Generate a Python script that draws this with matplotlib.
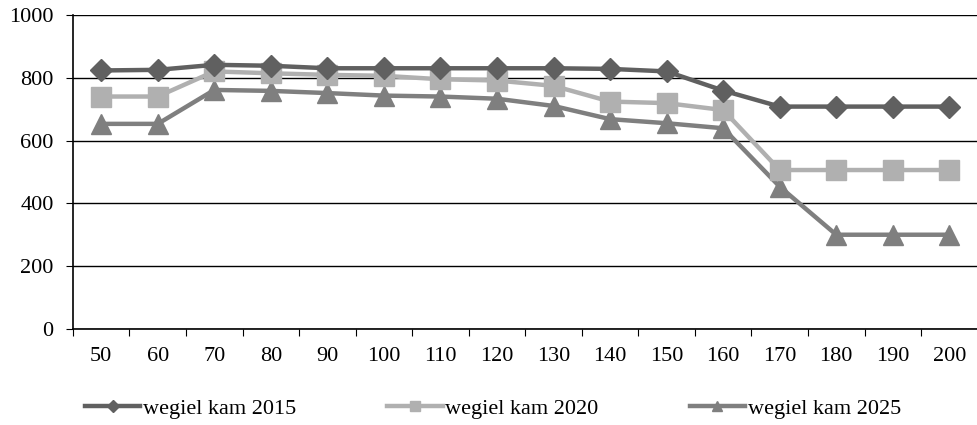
import matplotlib.pyplot as plt
import numpy as np

plt.rcParams['font.family'] = ['Liberation Serif', 'DejaVu Serif']

# categories on the x axis
kategorie = [50, 60, 70, 80, 90, 100, 110, 120, 130, 140, 150, 160, 170, 180, 190, 200]

# series values
wegiel_2015 = [823, 825, 841, 838, 830, 830, 830, 830, 830, 828, 820, 759, 708, 708, 708, 708]
wegiel_2020 = [740, 740, 820, 814, 809, 806, 795, 791, 774, 724, 719, 697, 506, 506, 506, 506]
wegiel_2025 = [653, 653, 761, 758, 751, 743, 740, 733, 710, 668, 655, 639, 453, 300, 300, 300]

nazwy = ['wegiel kam 2015', 'wegiel kam 2020', 'wegiel kam 2025']
y_ticks = [0, 200, 400, 600, 800, 1000]

fig = plt.figure(figsize=(9.78, 4.25), dpi=100)
ax = fig.add_axes([0.0746, 0.226, 0.925, 0.739])

x = np.arange(len(kategorie))
ax.plot(x, wegiel_2015, color='#606060', lw=3.2, marker='D', ms=11, label=nazwy[0], zorder=5)
ax.plot(x, wegiel_2020, color='#b0b0b0', lw=3.2, marker='s', ms=14, label=nazwy[1], zorder=4)
ax.plot(x, wegiel_2025, color='#7f7f7f', lw=3.2, marker='^', ms=14, label=nazwy[2], zorder=3)

ax.set_xlim(-0.5, len(kategorie) - 0.5)
ax.set_ylim(0, 1000)
ax.set_yticks(y_ticks)
ax.set_yticklabels([str(v) for v in y_ticks], fontsize=16)
ax.yaxis.grid(True, color='black', lw=1)
ax.set_axisbelow(True)

# tick marks between categories, labels centred on them
ax.set_xticks(np.arange(-0.5, len(kategorie), 1.0))
ax.set_xticklabels([])
ax.set_xticks(x, minor=True)
ax.set_xticklabels([str(k) for k in kategorie], minor=True, fontsize=16)
ax.tick_params(axis='x', which='major', length=5, direction='out', color='black')
ax.tick_params(axis='x', which='minor', length=0, pad=13)
ax.tick_params(axis='y', length=5, direction='out', pad=9)

for s in ['top', 'right']:
    ax.spines[s].set_visible(False)
for s in ['left', 'bottom']:
    ax.spines[s].set_color('black')
    ax.spines[s].set_linewidth(1.2)

fig.legend(loc='center left', bbox_to_anchor=(0.087, 0.038), ncol=3, frameon=False,
           fontsize=16, handlelength=2.48, handletextpad=0.13, columnspacing=4.1,
           markerscale=0.55, borderpad=0, borderaxespad=0)

fig.savefig('out.png', dpi=100)
